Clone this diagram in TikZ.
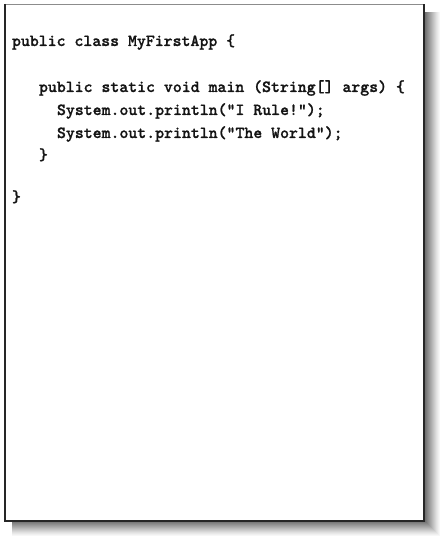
\documentclass[tikz,border=0pt]{standalone}
\usepackage{fontspec}
\newfontfamily\codefont{lmmonolt10-bold.otf}[FakeBold=1.0]
\begin{document}
\begin{tikzpicture}[x=1pt,y=-1pt,
  codeline/.style={anchor=base west,inner sep=0pt,outer sep=0pt,
    font=\fontsize{17}{20}\selectfont\codefont,text=black!92}]
\useasboundingbox (0,0) rectangle (444,540);
% shadow
\foreach \k/\c in {15/3,14/6,13/9,12/12,11/16,10/20,9/24,8/28,7/32,6/36,5/40,4/44,3/48,2/52,1/56}{
  \fill[black!\c] (12,12) rectangle (425+\k,521+\k);
}
% sheet
\fill[white] (4,4) rectangle (424,521);
\draw[black!45,line width=0.8pt] (4,4) -- (424,4);
\draw[black!85,line width=2pt] (5,4) -- (5,521) -- (424,521) -- (424,4);
% code
\node[codeline] (l1) at (12,46) {public class MyFirstApp \{};
\node[codeline] (l2) at (39,92) {public static void main (String[] args) \{};
\node[codeline] (l3) at (57,115) {System.out.println("I Rule!");};
\node[codeline] (l4) at (57,138) {System.out.println("The World");};
\node[codeline] (l5) at (39,160) {\}};
\node[codeline] (l6) at (12,202) {\}};
\end{tikzpicture}
\end{document}
